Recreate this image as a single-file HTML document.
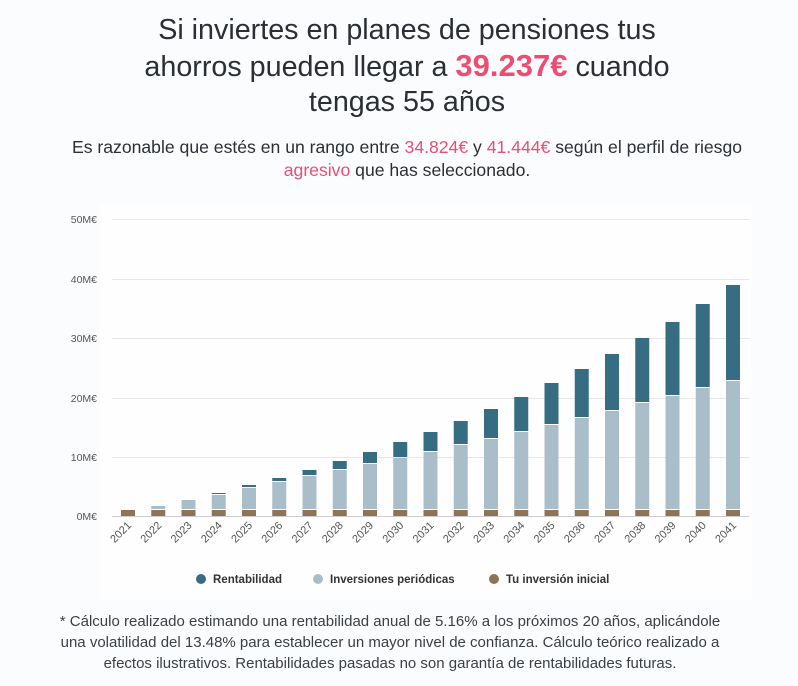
<!DOCTYPE html>
<html><head><meta charset="utf-8"><style>
body{margin:0;width:798px;height:686px;background:#fbfcfd;font-family:"Liberation Sans",sans-serif;position:relative;overflow:hidden}
.t{position:absolute;left:0;width:798px;text-align:center;color:#2b2f33}
.p{color:#ec4d73}
</style></head><body>
<div class="t" style="left:8px;top:13px;font-size:28.7px;line-height:35px">Si inviertes en planes de pensiones tus<br>ahorros pueden llegar a <b class="p" style="font-size:31px">39.237€</b> cuando<br>tengas 55 años</div>
<div class="t" style="left:8px;top:136px;font-size:17.6px;line-height:23px">Es razonable que estés en un rango entre <span class="p">34.824€</span> y <span class="p">41.444€</span> según el perfil de riesgo<br><span class="p">agresivo</span> que has seleccionado.</div>
<svg style="position:absolute;left:0;top:0" width="798" height="686">
<rect x="100" y="205" width="652" height="395" fill="#fefefe"/>
<g stroke="#e6e6e6" stroke-width="1">
<line x1="112" x2="749" y1="219.5" y2="219.5"/><line x1="112" x2="749" y1="279.5" y2="279.5"/><line x1="112" x2="749" y1="338.5" y2="338.5"/><line x1="112" x2="749" y1="398.5" y2="398.5"/><line x1="112" x2="749" y1="457.5" y2="457.5"/>
</g>
<line x1="112" x2="749" y1="516.5" y2="516.5" stroke="#ccc"/>
<g font-size="10.5" fill="#555" text-anchor="end">
<text x="97" y="223">50M€</text><text x="97" y="283">40M€</text><text x="97" y="342">30M€</text><text x="97" y="402">20M€</text><text x="97" y="461">10M€</text><text x="97" y="520">0M€</text>
</g>
<g id="bars"></g>
<g id="lab" font-size="11" fill="#555" text-anchor="end"></g>
<g font-size="11.5" font-weight="bold" fill="#333">
<circle cx="201" cy="579" r="5" fill="#376d82"/><text x="213" y="583">Rentabilidad</text>
<circle cx="318" cy="579" r="5" fill="#a9bec8"/><text x="330" y="583">Inversiones periódicas</text>
<circle cx="494" cy="579" r="5" fill="#8c7459"/><text x="506" y="583">Tu inversión inicial</text>
</g>
</svg>
<div class="t" style="left:-9px;top:611px;font-size:15px;line-height:21px;color:#3a3f44">* Cálculo realizado estimando una rentabilidad anual de 5.16% a los próximos 20 años, aplicándole<br>una volatilidad del 13.48% para establecer un mayor nivel de confianza. Cálculo teórico realizado a<br>efectos ilustrativos. Rentabilidades pasadas no son garantía de rentabilidades futuras.</div>
<script>
var tops=[510,506,500,493,485,478,470,461,452,442,432,421,409,397,383,369,354,338,322,304,285];
var bnd=[510,506,500,495,488,482,476,470,464,458,452,445,439,432,425,418,411,403,396,388,381];
var s='',l='';
for(var i=0;i<21;i++){var cx=128+i*30.25,x=cx-7;
s+='<rect x="'+x+'" y="510" width="14" height="6" fill="#8c7459"/>';
if(bnd[i]<509)s+='<rect x="'+x+'" y="'+bnd[i]+'" width="14" height="'+(509-bnd[i])+'" fill="#a9bec8"/>';
if(tops[i]<bnd[i]-0.5)s+='<rect x="'+x+'" y="'+tops[i]+'" width="14" height="'+(bnd[i]-1-tops[i])+'" fill="#376d82"/>';
l+='<text transform="translate('+(cx+4)+',526) rotate(-45)">'+(2021+i)+'</text>';}
document.getElementById('bars').innerHTML=s;document.getElementById('lab').innerHTML=l;
</script>
</body></html>
